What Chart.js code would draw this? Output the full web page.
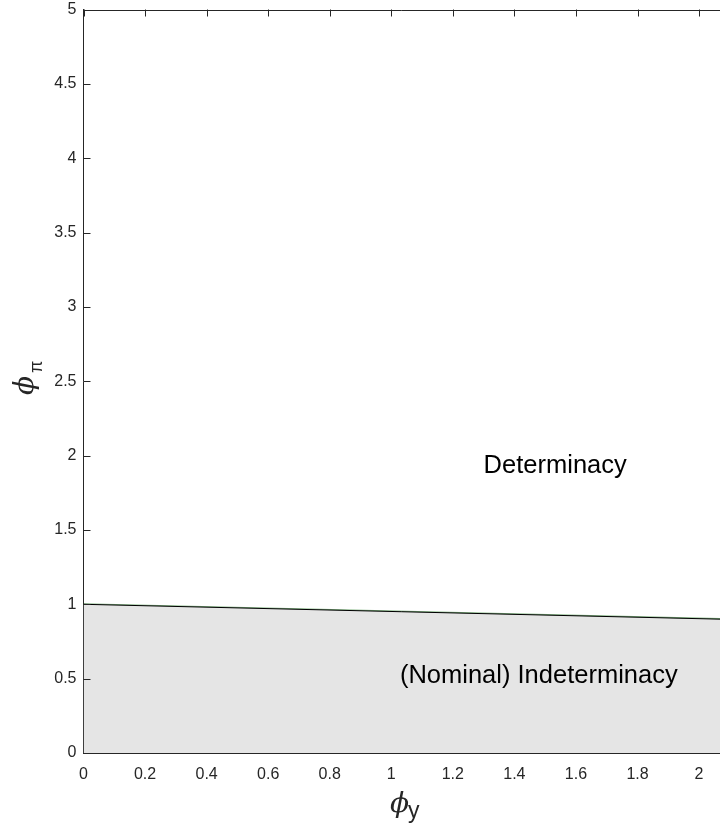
<!DOCTYPE html>
<html>
<head>
<meta charset="utf-8">
<script src="https://cdn.jsdelivr.net/npm/chart.js@4/dist/chart.umd.min.js"></script>
<style>
  body { margin: 0; background: #fff; }
</style>
</head>
<body>
<canvas id="myChart" width="720" height="833"></canvas>
<script>
// boundary phi_pi = f(phi_y)
var phiY = [0, 2.068];
var phiPi = [1.0, 0.9];
var xTicks = [0, 0.2, 0.4, 0.6, 0.8, 1, 1.2, 1.4, 1.6, 1.8, 2];
var yTicks = [0, 0.5, 1, 1.5, 2, 2.5, 3, 3.5, 4, 4.5, 5];
var regionText = ['Determinacy', '(Nominal) Indeterminacy'];
var regionX = [1.30, 1.028];
var regionY = [1.883, 0.47];

var INK = '#262626';

var boundary = phiY.map(function(e, i){
  return {x: e, y: phiPi[i]};
});

// inward ticks, top frame line, region texts and axis titles
var decor = {
  id: 'decor',
  afterDraw: function(chart){
    var ctx = chart.ctx;
    var xs = chart.scales.x, ys = chart.scales.y;
    var a = chart.chartArea;
    ctx.save();
    ctx.strokeStyle = INK;
    ctx.lineWidth = 1;
    ctx.beginPath();
    ctx.moveTo(a.left, Math.round(a.top) + 0.5);
    ctx.lineTo(a.right, Math.round(a.top) + 0.5);
    yTicks.forEach(function(v){
      var py = Math.round(ys.getPixelForValue(v)) + 0.5;
      ctx.moveTo(a.left, py);
      ctx.lineTo(a.left + 7, py);
    });
    xTicks.forEach(function(v){
      var px = Math.round(xs.getPixelForValue(v)) + 0.5;
      ctx.moveTo(px, a.top);
      ctx.lineTo(px, a.top + 7);
    });
    ctx.stroke();

    ctx.fillStyle = '#000';
    ctx.font = '25.5px "Liberation Sans", Arial, sans-serif';
    ctx.textAlign = 'left';
    ctx.textBaseline = 'alphabetic';
    regionText.forEach(function(t, i){
      ctx.fillText(t, xs.getPixelForValue(regionX[i]), ys.getPixelForValue(regionY[i]));
    });

    // x title: phi_y
    ctx.fillStyle = INK;
    ctx.font = 'italic 28px "DejaVu Serif", serif';
    ctx.fillText('\u03D5', 390, 812);
    ctx.font = '23px "Liberation Sans", Arial, sans-serif';
    ctx.fillText('y', 408, 818);

    // y title: phi_pi, rotated
    ctx.translate(33, 395);
    ctx.rotate(-Math.PI / 2);
    ctx.font = 'italic 28px "DejaVu Serif", serif';
    ctx.fillText('\u03D5', 0, 0);
    ctx.font = '18px "Liberation Sans", Arial, sans-serif';
    ctx.fillText('\u03C0', 22, 9);
    ctx.restore();
  }
};

var canvas = document.getElementById('myChart');
var ctx = canvas.getContext('2d');
var config = {
  type: 'scatter',
  data: {
    datasets: [{
      data: boundary,
      showLine: true,
      fill: 'origin',
      backgroundColor: '#e5e5e5',
      borderColor: '#000',
      borderWidth: 1,
      pointRadius: 0,
      order: 2
    }, {
      data: boundary,
      showLine: true,
      fill: false,
      borderColor: 'rgba(30,120,30,0.55)',
      borderWidth: 2.2,
      pointRadius: 0,
      order: 3
    }]
  },
  options: {
    responsive: false,
    animation: false,
    devicePixelRatio: 1,
    layout: { padding: { top: 9.5, right: 0, left: 0, bottom: 0 } },
    plugins: { legend: { display: false }, tooltip: { enabled: false } },
    scales: {
      x: {
        type: 'linear',
        min: 0,
        max: phiY[1],
        grid: { display: false, drawTicks: false },
        border: { display: true, color: INK, width: 1 },
        afterBuildTicks: function(s){ s.ticks = xTicks.map(function(v){ return {value: v}; }); },
        afterFit: function(s){ s.height = 80; s.paddingLeft = 0; s.paddingRight = 0; },
        ticks: {
          padding: 12,
          color: INK,
          font: { family: '"Liberation Sans", Arial, sans-serif', size: 16 },
          maxRotation: 0,
          autoSkip: false,
          callback: function(v){ return String(Math.round(v * 10) / 10); }
        }
      },
      y: {
        type: 'linear',
        min: 0,
        max: 5,
        grid: { display: false, drawTicks: false },
        border: { display: true, color: INK, width: 1 },
        afterBuildTicks: function(s){ s.ticks = yTicks.map(function(v){ return {value: v}; }); },
        afterFit: function(s){ s.width = 83.5; s.paddingTop = 0; s.paddingBottom = 0; },
        ticks: {
          padding: 7,
          color: INK,
          font: { family: '"Liberation Sans", Arial, sans-serif', size: 16 },
          autoSkip: false,
          callback: function(v){ return String(v); }
        }
      }
    }
  },
  plugins: [decor]
};

var chart = new Chart(ctx, config);
</script>
</body>
</html>
